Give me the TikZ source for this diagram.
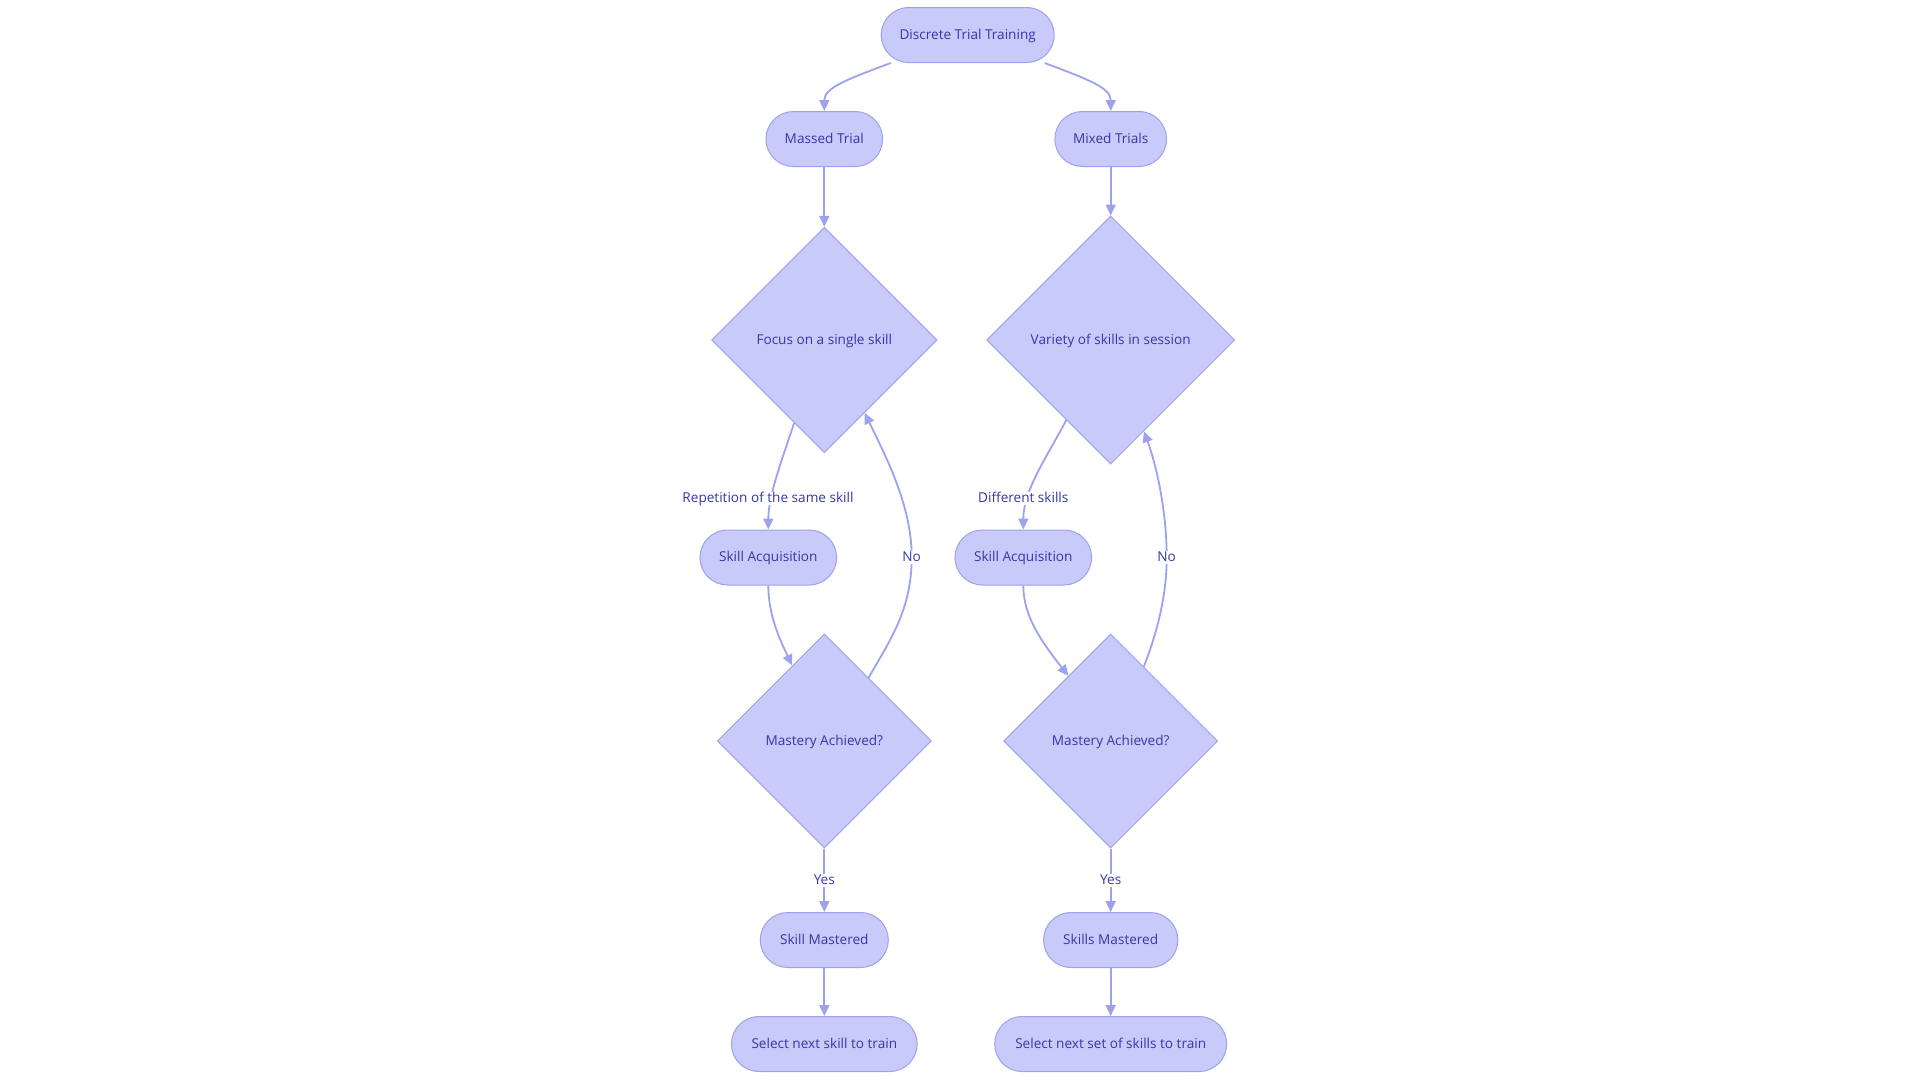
\documentclass[tikz,border=0pt]{standalone}
\usepackage{fontspec}
\setmainfont{Open Sans}
\usetikzlibrary{shapes.geometric,arrows.meta}
\definecolor{nfill}{RGB}{200,202,250}
\definecolor{nline}{RGB}{158,161,235}
\definecolor{ntext}{RGB}{52,56,168}
\begin{document}
\begin{tikzpicture}[x=1pt,y=-1pt,
  txt/.style={text=ntext, font=\fontsize{13.6}{16}\selectfont, text height=0.95em, text depth=0.15em},
  pill/.style={txt, draw=nline, fill=nfill, line width=1pt, rounded corners=27.5pt, minimum height=55pt, inner sep=0pt},
  dia/.style={txt, diamond, draw=nline, fill=nfill, line width=1pt, aspect=1, inner sep=0pt},
  conn/.style={draw=nline, line width=1.8pt, -{Triangle[length=11pt,width=10pt]}},
  lbl/.style={txt, fill=white, inner sep=1pt}]
\useasboundingbox[fill=white] (0,0) rectangle (1920,1080);

\node[pill, minimum width=173pt] (dtt) at (967.7,35) {Discrete Trial Training};
\node[pill, minimum width=116.7pt] (mt) at (824.3,139) {Massed Trial};
\node[pill, minimum width=111.7pt] (mix) at (1110.7,139) {Mixed Trials};
\node[dia, minimum size=225.4pt] (d1) at (824.3,340) {Focus on a single skill};
\node[dia, minimum size=248pt] (d2) at (1110.7,340) {Variety of skills in session};
\node[pill, minimum width=136.7pt] (sa1) at (768.3,557.5) {Skill Acquisition};
\node[pill, minimum width=136.7pt] (sa2) at (1023.3,557.5) {Skill Acquisition};
\node[dia, minimum size=214pt] (m1) at (824.3,741) {Mastery Achieved?};
\node[dia, minimum size=214pt] (m2) at (1110.7,741) {Mastery Achieved?};
\node[pill, minimum width=128pt] (sm1) at (824.3,940) {Skill Mastered};
\node[pill, minimum width=134.3pt] (sm2) at (1110.7,940) {Skills Mastered};
\node[pill, minimum width=185.7pt] (sel1) at (824.3,1044) {Select next skill to train};
\node[pill, minimum width=232pt] (sel2) at (1110.7,1044) {Select next set of skills to train};

\coordinate (n1) at (911.7,557);
\coordinate (n2) at (1166.7,557);

\draw[conn] (dtt.200) .. controls (845,80) and (824.3,88) .. (mt.north);
\draw[conn] (dtt.340) .. controls (1090,80) and (1110.7,88) .. (mix.north);
\draw[conn] (mt.south) -- (d1.north);
\draw[conn] (mix.south) -- (d2.north);

\draw[conn] (d1.250.6) .. controls (783,457) and (768.3,495) .. (sa1.north);
\draw[conn] (sa1.south) .. controls (768.3,615) and (780,640) .. (m1.113.2);
\draw[conn] (m1.55.6) .. controls (890,640) and (911.7,610) .. (n1) .. controls (911.7,505) and (885,455) .. (d1.299.5);

\draw[conn] (d2.241.7) .. controls (1048,455) and (1023.3,490) .. (sa2.north);
\draw[conn] (sa2.south) .. controls (1023.3,615) and (1040,640) .. (m2.123.4);
\draw[conn] (m2.66.8) .. controls (1160,625) and (1166.7,590) .. (n2) .. controls (1166.7,515) and (1158,470) .. (d2.290);

\draw[conn] (m1.south) -- (sm1.north);
\draw[conn] (m2.south) -- (sm2.north);
\draw[conn] (sm1.south) -- (sel1.north);
\draw[conn] (sm2.south) -- (sel2.north);

\node[lbl] (l1) at (768,498) {Repetition of the same skill};
\node[lbl] (l2) at (1023.3,498) {Different skills};
\node[lbl] (l3) at (n1) {No};
\node[lbl] (l4) at (n2) {No};
\node[lbl] (l5) at (824.3,880) {Yes};
\node[lbl] (l6) at (1110.7,880) {Yes};
\end{tikzpicture}
\end{document}
